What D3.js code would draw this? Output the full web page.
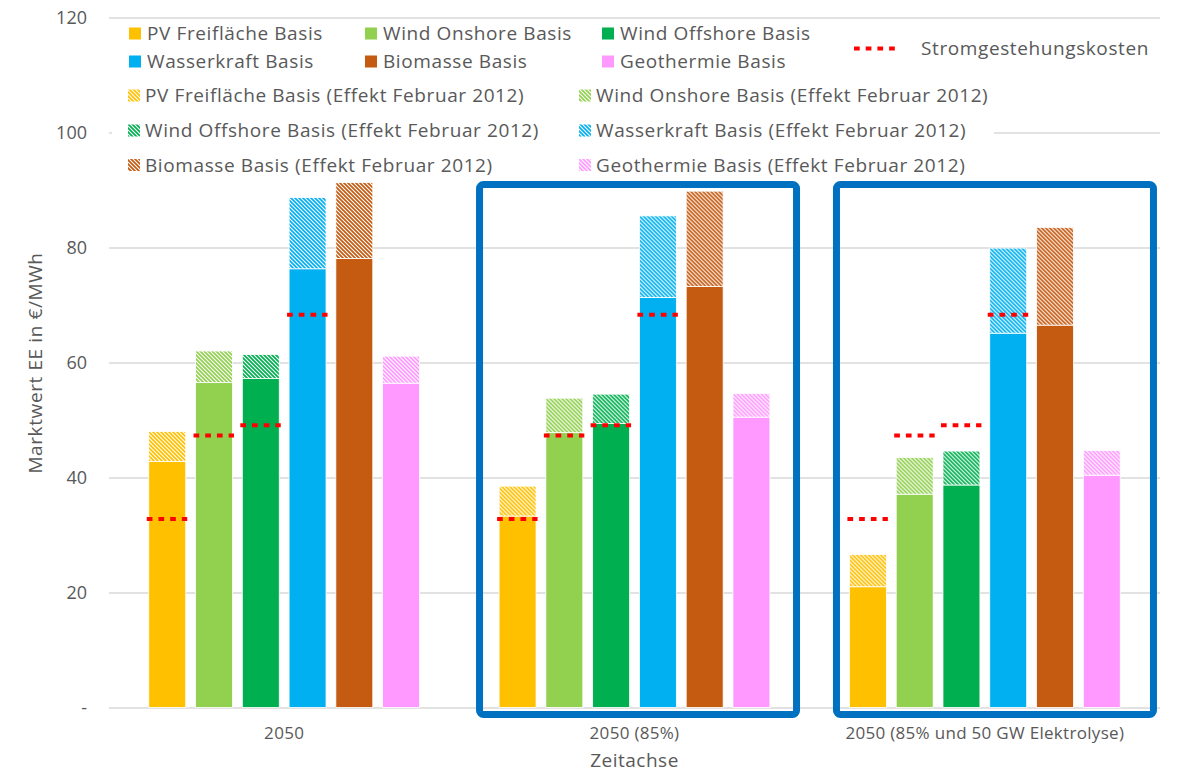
<!DOCTYPE html>
<html>
<head>
<meta charset="utf-8">
<script src="https://cdn.jsdelivr.net/npm/d3@7"></script>
<style>
  body { margin: 0; background: #fff; }
  text { font-family: 'Open Sans', Lato, sans-serif; fill: #595959; }
</style>
</head>
<body>
<script>
const categories = ['2050', '2050 (85%)', '2050 (85% und 50 GW Elektrolyse)'];
const technologies = ['PV Freifläche', 'Wind Onshore', 'Wind Offshore', 'Wasserkraft', 'Biomasse', 'Geothermie'];
const colors = ['#FFC000', '#92D050', '#00B050', '#00B0F0', '#C55A11', '#FF99FF'];

// Basis (solid) per scenario, one value per technology
const basis2050 = [42.8, 56.5, 57.2, 76.3, 78.1, 56.4];
const basis85 = [33.3, 47.8, 49.4, 71.3, 73.2, 50.5];
const basisElektrolyse = [21.0, 37.1, 38.7, 65.1, 66.5, 40.4];

// Effekt Februar 2012 (hatched, stacked on top)
const effekt2050 = [5.2, 5.5, 4.2, 12.4, 13.2, 4.7];
const effekt85 = [5.2, 6.0, 5.1, 14.2, 16.6, 4.1];
const effektElektrolyse = [5.6, 6.4, 5.9, 14.8, 17.0, 4.3];

// Stromgestehungskosten, same in every scenario
const kosten = [32.8, 47.3, 49.1, 68.3, null, null];

const yTicks = [0, 20, 40, 60, 80, 100, 120];

const basis = [basis2050, basis85, basisElektrolyse];
const effekt = [effekt2050, effekt85, effektElektrolyse];

const width = 1187, height = 774;
const plot = { left: 109, right: 1160, top: 17.5, bottom: 707.5 };

const svg = d3.select('body').append('svg')
  .attr('width', width)
  .attr('height', height);

const x0 = d3.scaleBand()
  .domain(categories)
  .range([plot.left, plot.right]);

const x1 = d3.scaleBand()
  .domain(technologies)
  .range([0, x0.bandwidth()])
  .paddingInner(0.21)
  .paddingOuter(0.85);

const y = d3.scaleLinear()
  .domain([0, 120])
  .range([plot.bottom, plot.top]);

// hatch patterns (downward diagonal, 4px)
const defs = svg.append('defs');
colors.forEach((c, i) => {
  const p = defs.append('pattern')
    .attr('id', 'hatch' + i)
    .attr('patternUnits', 'userSpaceOnUse')
    .attr('width', 4)
    .attr('height', 4);
  p.append('rect').attr('width', 4).attr('height', 4).attr('fill', '#fff');
  p.append('path')
    .attr('d', 'M-1,-1L5,5M-1,3L1,5M3,-1L5,1')
    .attr('stroke', c)
    .attr('stroke-width', 1.7);
});

// y axis + gridlines
const yAxis = d3.axisLeft(y)
  .tickValues(yTicks)
  .tickFormat(d => d === 0 ? '-' : d)
  .tickSize(-(plot.right - plot.left))
  .tickPadding(22);

const gy = svg.append('g')
  .attr('transform', `translate(${plot.left},0)`)
  .call(yAxis);
gy.select('.domain').remove();
gy.selectAll('line').attr('stroke', '#d9d9d9').attr('stroke-width', 1.3);
gy.selectAll('text').style('font-size', '18px').style('fill', '#595959');

// x axis labels
const gx = svg.append('g')
  .attr('transform', `translate(0,${plot.bottom})`)
  .call(d3.axisBottom(x0).tickSize(0).tickPadding(19));
gx.select('.domain').remove();
gx.selectAll('text')
  .style('font-size', '17px')
  .style('letter-spacing', '0.3px')
  .style('fill', '#595959');

// bars
categories.forEach((cat, g) => {
  const grp = svg.append('g').attr('transform', `translate(${x0(cat)},0)`);
  technologies.forEach((t, i) => {
    const b = basis[g][i], e = effekt[g][i];
    grp.append('rect')
      .attr('x', x1(t))
      .attr('width', x1.bandwidth())
      .attr('y', y(b))
      .attr('height', y(0) - y(b))
      .attr('fill', colors[i])
      .attr('stroke', '#fff')
      .attr('stroke-width', 0.8);
    grp.append('rect')
      .attr('x', x1(t))
      .attr('width', x1.bandwidth())
      .attr('y', y(b + e))
      .attr('height', y(b) - y(b + e))
      .attr('fill', `url(#hatch${i})`)
      .attr('stroke', '#fff')
      .attr('stroke-width', 0.8);
    if (kosten[i] != null) {
      grp.append('line')
        .attr('x1', x1(t) - 2)
        .attr('x2', x1(t) + x1.bandwidth() + 1.5)
        .attr('y1', y(kosten[i]))
        .attr('y2', y(kosten[i]))
        .attr('stroke', '#FF0000')
        .attr('stroke-width', 4)
        .attr('stroke-dasharray', '5.7 6');
    }
  });
});

// highlight boxes around the 85% scenarios
[[categories[1], 20.2], [categories[2], 26.8]].forEach(([cat, dx]) => {
  svg.append('rect')
    .attr('x', x0(cat) + dx)
    .attr('y', 184.5)
    .attr('width', 317)
    .attr('height', 530)
    .attr('rx', 4)
    .attr('fill', 'none')
    .attr('stroke', '#0070C0')
    .attr('stroke-width', 7);
});

// axis titles
svg.append('text')
  .attr('transform', 'rotate(-90)')
  .attr('x', -363)
  .attr('y', 35)
  .attr('dy', '0.35em')
  .style('text-anchor', 'middle')
  .style('font-size', '19px')
  .style('letter-spacing', '0.6px')
  .text('Marktwert EE in €/MWh');

svg.append('text')
  .attr('x', x0(categories[1]) + x0.bandwidth() / 2)
  .attr('y', 760)
  .attr('dy', '0.35em')
  .style('text-anchor', 'middle')
  .style('font-size', '19px')
  .style('letter-spacing', '0.5px')
  .text('Zeitachse');

// legend
const legend = svg.append('g')
  .style('font-size', '19px')
  .style('letter-spacing', '0.6px');
legend.append('rect')
  .attr('x', 112).attr('y', 22).attr('width', 882).attr('height', 156)
  .attr('fill', '#fff');

const solidCols = [129, 365, 602];
const solidRows = [33.5, 61.5];
technologies.forEach((t, i) => {
  const cx = solidCols[i % 3], cy = solidRows[Math.floor(i / 3)];
  legend.append('rect')
    .attr('x', cx).attr('y', cy - 6).attr('width', 12).attr('height', 12)
    .attr('fill', colors[i]);
  legend.append('text')
    .attr('x', cx + 18).attr('y', cy).attr('dy', '0.35em')
    .text(t + ' Basis');
});

const hatchCols = [128, 579];
const hatchRows = [95.5, 130.5, 165];
technologies.forEach((t, i) => {
  const cx = hatchCols[i % 2], cy = hatchRows[Math.floor(i / 2)];
  legend.append('rect')
    .attr('x', cx).attr('y', cy - 6).attr('width', 12).attr('height', 12)
    .attr('fill', `url(#hatch${i})`);
  legend.append('text')
    .attr('x', cx + 17).attr('y', cy).attr('dy', '0.35em')
    .text(t + ' Basis (Effekt Februar 2012)');
});

legend.append('line')
  .attr('x1', 854).attr('x2', 895)
  .attr('y1', 48.5).attr('y2', 48.5)
  .attr('stroke', '#FF0000')
  .attr('stroke-width', 4)
  .attr('stroke-dasharray', '5.7 6');
legend.append('text')
  .attr('x', 921).attr('y', 48.5).attr('dy', '0.35em')
  .text('Stromgestehungskosten');
</script>
</body>
</html>
